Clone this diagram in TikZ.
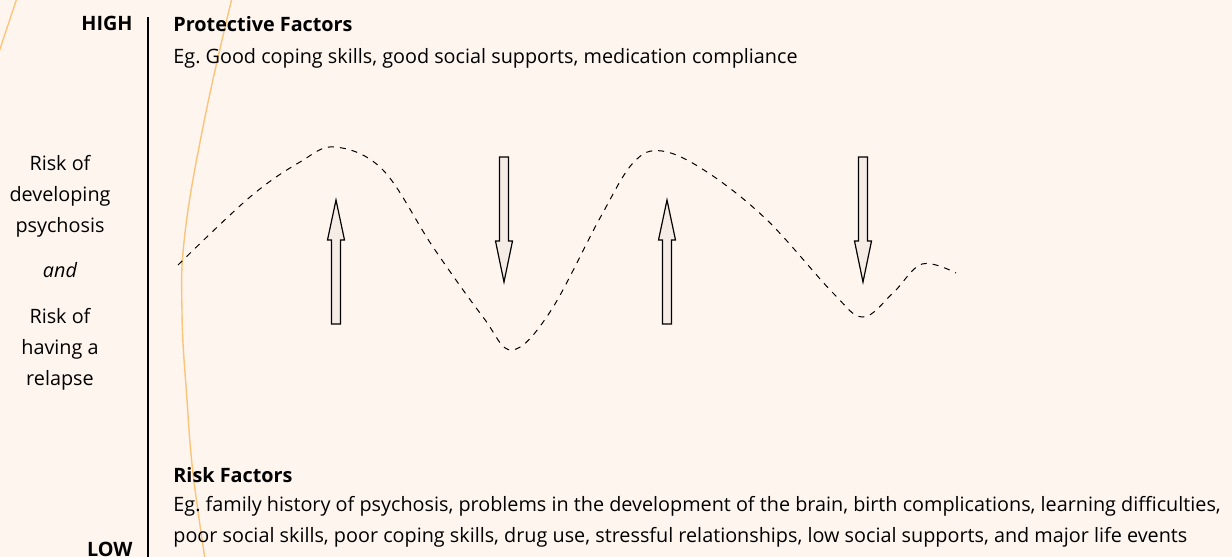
\documentclass[tikz,border=0pt]{standalone}
\usepackage{fontspec}
\setmainfont{Open Sans}
\usetikzlibrary{positioning}
\definecolor{paper}{RGB}{254,245,239}
\definecolor{tangerine}{RGB}{250,196,122}
\definecolor{shell}{RGB}{246,236,230}
\frenchspacing

\begin{document}
\begin{tikzpicture}[x=0.5pt,y=-0.5pt,
    txt/.style={font=\fontsize{9.9}{15.3}\selectfont, inner sep=0pt},
    heading/.style={txt, font=\fontsize{9.9}{15.3}\selectfont\bfseries},
    block arrow/.style={draw=black, fill=shell, line width=0.6pt},
    swing/.style={dashed, dash pattern=on 3pt off 3pt, line width=0.5pt}]
            \useasboundingbox (0,0) rectangle (1232,557);
            \fill[paper]                                                  (0,0) rectangle (1232,557);
            % orange background strokes
            \draw[tangerine, line width=0.7pt] plot[smooth, tension=0.7] coordinates
                 {(232,-2) (205,117) (185,233) (182,313) (187,400) (193,473) (205,559)};
            \draw[tangerine, line width=0.7pt] (17,-2) -- (-1,52);
            % scale
            \draw[line width=0.6pt]                                       (148,17) -- (148,557);
            \node[heading, anchor=base east] (high) at (133,31)  {HIGH};
            \node[heading, anchor=base east] (low)  at (133,556) {LOW};
            % left labels (base anchor sits on the last line)
            \node[txt, align=center, anchor=base] (develop) at (60,232) {Risk of\\developing\\psychosis};
            \node[txt, anchor=base, font=\fontsize{9.9}{15.3}\selectfont\itshape] (andword) at (60,277) {and};
            \node[txt, align=center, anchor=base] (relapse) at (60,385) {Risk of\\having a\\relapse};
            % factor texts
            \node[heading, anchor=base west] (protective) at (173,32) {Protective Factors};
            \node[txt, anchor=base west] (protectiveeg) at (173,63)
                 {Eg. Good coping skills, good social supports, medication compliance};
            \node[heading, anchor=base west] (risk) at (173,482) {Risk Factors};
            \node[txt, anchor=base west, align=left] (riskeg) at (173,542)
                 {Eg. family history of psychosis, problems in the development of the brain, birth complications, learning difficulties,\\
                  poor social skills, poor coping skills, drug use, stressful relationships, low social supports, and major life events};
            % risk curve
            \draw[swing] plot[smooth, tension=0.6] coordinates
                 {(178,265) (250,197) (300,162) (335,147) (383,170) (433,247) (483,317) (512,350) (550,312)
                  (600,218) (633,163) (662,151) (707,172) (767,220) (833,293) (863,317) (893,293) (922,264) (956,273)};
            % up and down arrows
            \filldraw[block arrow] (336,200) -- ++(8.5,40)  -- ++(-4,0) -- ++(0,84)  -- ++(-9,0) -- ++(0,-84) -- ++(-4,0) -- cycle;
            \filldraw[block arrow] (504,282) -- ++(8.5,-41) -- ++(-4,0) -- ++(0,-84) -- ++(-9,0) -- ++(0,84)  -- ++(-4,0) -- cycle;
            \filldraw[block arrow] (667,200) -- ++(8.5,40)  -- ++(-4,0) -- ++(0,84)  -- ++(-9,0) -- ++(0,-84) -- ++(-4,0) -- cycle;
            \filldraw[block arrow] (863,282) -- ++(8.5,-41) -- ++(-4,0) -- ++(0,-84) -- ++(-9,0) -- ++(0,84)  -- ++(-4,0) -- cycle;
\end{tikzpicture}
\end{document}
